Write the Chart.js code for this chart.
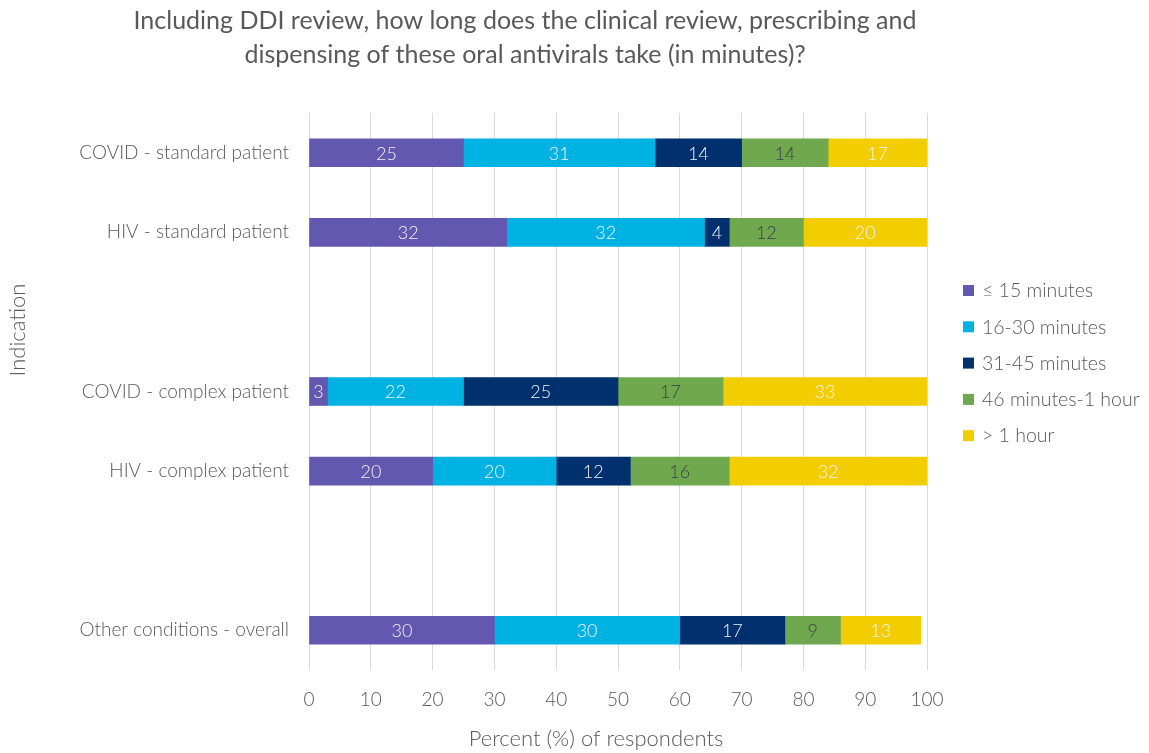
<!DOCTYPE html>
<html>
<head>
<meta charset="utf-8">
<script src="https://cdn.jsdelivr.net/npm/chart.js@4.4.1/dist/chart.umd.min.js"></script>
<style>
  html, body { margin: 0; padding: 0; background: #fff; }
  #wrap { width: 1149px; height: 753px; position: relative; }
</style>
</head>
<body>
<div id="wrap"><canvas id="chart"></canvas></div>
<script>
// categories (blank slots keep the gaps between groups)
const categories = ['COVID - standard patient', 'HIV - standard patient', '',
    'COVID - complex patient', 'HIV - complex patient', '', 'Other conditions - overall'];
const seriesNames = ['\u2264 15 minutes', '16-30 minutes', '31-45 minutes', '46 minutes-1 hour', '> 1 hour'];
const upTo15 = [25, 32, null, 3, 20, null, 30];
const min16to30 = [31, 32, null, 22, 20, null, 30];
const min31to45 = [14, 4, null, 25, 12, null, 17];
const min46to60 = [14, 12, null, 17, 16, null, 9];
const overHour = [17, 20, null, 33, 32, null, 13];
const xTicks = [0, 10, 20, 30, 40, 50, 60, 70, 80, 90, 100];

const colors = ['#6358b0', '#00b2e2', '#00306e', '#70a84f', '#f2cd00'];
const labelColors = ['#f2f2f2', '#f2f2f2', '#f2f2f2', '#404040', '#f2f2f2'];
const FONT = 'Lato, "Open Sans", sans-serif';
const GREY = '#595959';

// values written in the middle of each segment
const segmentLabels = {
    id: 'segmentLabels',
    afterDatasetsDraw(chart) {
        const ctx = chart.ctx;
        const area = chart.chartArea;
        ctx.save();
        ctx.font = '300 18px ' + FONT;
        ctx.textAlign = 'center';
        ctx.textBaseline = 'middle';
        chart.data.datasets.forEach((ds, i) => {
            chart.getDatasetMeta(i).data.forEach((bar, j) => {
                const v = ds.data[j];
                if (v == null) return;
                const left = Math.max(Math.min(bar.x, bar.base), area.left);
                const right = Math.min(Math.max(bar.x, bar.base), area.right);
                ctx.fillStyle = labelColors[i];
                ctx.fillText(String(v), (left + right) / 2, bar.y + 1);
            });
        });
        ctx.restore();
    }
};

// title, axis titles and legend placed like the original
const decorations = {
    id: 'decorations',
    afterDraw(chart) {
        const ctx = chart.ctx;
        ctx.save();
        ctx.fillStyle = GREY;
        ctx.textAlign = 'center';
        ctx.textBaseline = 'middle';
        ctx.font = '25px ' + FONT;
        ctx.fillText('Including DDI review, how long does the clinical review, prescribing and', 525, 21);
        ctx.fillText('dispensing of these oral antivirals take (in minutes)?', 525, 55);

        ctx.font = '300 22px ' + FONT;
        ctx.fillText('Percent (%) of respondents', 596, 739);
        ctx.save();
        ctx.translate(18, 330);
        ctx.rotate(-Math.PI / 2);
        ctx.fillText('Indication', 0, 0);
        ctx.restore();

        ctx.textAlign = 'left';
        ctx.font = '300 19.5px ' + FONT;
        seriesNames.forEach((name, i) => {
            const y = 290 + i * 36.3;
            ctx.fillStyle = colors[i];
            ctx.fillRect(963, y - 5, 11, 11);
            ctx.fillStyle = GREY;
            ctx.fillText(name, 982, y + 1);
        });
        ctx.restore();
    }
};

const series = [upTo15, min16to30, min31to45, min46to60, overHour];

new Chart(document.getElementById('chart'), {
    type: 'bar',
    data: {
        labels: categories,
        datasets: series.map((data, i) => ({
            label: seriesNames[i],
            data: data,
            backgroundColor: colors[i],
            borderWidth: 0,
            barThickness: 28
        }))
    },
    options: {
        indexAxis: 'y',
        responsive: true,
        maintainAspectRatio: false,
        animation: false,
        layout: { padding: { left: 0, top: 113, right: 222, bottom: 0 } },
        plugins: {
            legend: { display: false },
            title: { display: false },
            tooltip: { enabled: false }
        },
        scales: {
            x: {
                stacked: true,
                min: 0,
                max: 100,
                afterBuildTicks: s => { s.ticks = xTicks.map(v => ({ value: v })); },
                afterFit: s => { s.height = 83; },
                grid: { color: '#d9d9d9', lineWidth: 1, drawTicks: false },
                border: { display: false },
                ticks: { color: GREY, font: { family: FONT, size: 19, weight: 300 }, padding: 18 }
            },
            y: {
                stacked: true,
                afterFit: s => { s.width = 309; },
                grid: { display: false, drawTicks: false },
                border: { display: false },
                ticks: { color: GREY, font: { family: FONT, size: 19, weight: 300 }, padding: 20, autoSkip: false }
            }
        }
    },
    plugins: [segmentLabels, decorations]
});
</script>
</body>
</html>
